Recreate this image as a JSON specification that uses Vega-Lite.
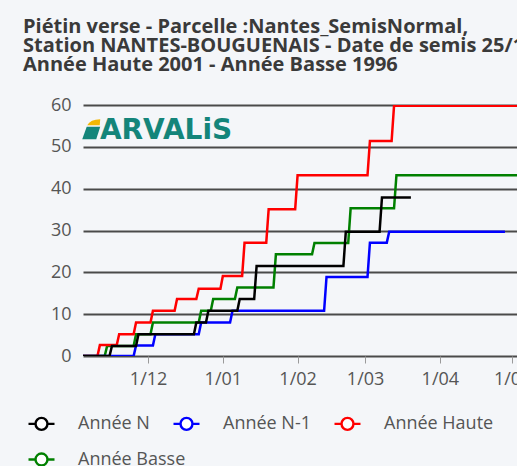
{
  "$schema": "https://vega.github.io/schema/vega-lite/v6.json",
  "width": 434,
  "height": 251,
  "autosize": {"type": "none"},
  "padding": {"left": 83, "top": 105, "right": 0, "bottom": 110},
  "background": "#f4f6f9",
  "title": {
    "text": ["Piétin verse - Parcelle :Nantes_SemisNormal,", "Station NANTES-BOUGUENAIS - Date de semis 25/1", "Année Haute 2001 - Année Basse 1996"],
    "anchor": "start",
    "frame": "group",
    "dx": -60,
    "fontSize": 20,
    "font": "Open Sans",
    "fontWeight": 700,
    "color": "#3a3a3a",
    "lineHeight": 19,
    "offset": 21
  },
  "config": {
    "view": {"stroke": null},
    "font": "Open Sans",
    "legend": {
      "title": null,
      "orient": "none",
      "direction": "horizontal",
      "gridAlign": "each",
      "columnPadding": 18,
      "symbolType": "M-1,0H-0.46M0.46,0H1M0.46,0A0.46,0.46,0,1,1,-0.46,0A0.46,0.46,0,1,1,0.46,0Z",
      "symbolSize": 676,
      "symbolStrokeWidth": 2.4,
      "symbolFillColor": "#ffffff",
      "labelOffset": 22,
      "labelFontSize": 18,
      "labelColor": "#555555",
      "labelFont": "Open Sans"
    }
  },
  "data": {
    "values": [
      {"serie": "Année Basse", "date": "2024-11-04", "value": 0},
      {"serie": "Année Basse", "date": "2024-11-13", "value": 0},
      {"serie": "Année Basse", "date": "2024-11-14", "value": 2.4},
      {"serie": "Année Basse", "date": "2024-11-25", "value": 2.4},
      {"serie": "Année Basse", "date": "2024-11-26", "value": 5.2},
      {"serie": "Année Basse", "date": "2024-12-02", "value": 5.2},
      {"serie": "Année Basse", "date": "2024-12-03", "value": 8.0},
      {"serie": "Année Basse", "date": "2024-12-22", "value": 8.0},
      {"serie": "Année Basse", "date": "2024-12-23", "value": 10.8},
      {"serie": "Année Basse", "date": "2024-12-27", "value": 10.8},
      {"serie": "Année Basse", "date": "2024-12-28", "value": 13.6},
      {"serie": "Année Basse", "date": "2025-01-06", "value": 13.6},
      {"serie": "Année Basse", "date": "2025-01-07", "value": 16.4},
      {"serie": "Année Basse", "date": "2025-01-22", "value": 16.4},
      {"serie": "Année Basse", "date": "2025-01-23", "value": 24.3},
      {"serie": "Année Basse", "date": "2025-02-07", "value": 24.3},
      {"serie": "Année Basse", "date": "2025-02-08", "value": 27.0},
      {"serie": "Année Basse", "date": "2025-02-22", "value": 27.0},
      {"serie": "Année Basse", "date": "2025-02-23", "value": 35.3},
      {"serie": "Année Basse", "date": "2025-03-13", "value": 35.3},
      {"serie": "Année Basse", "date": "2025-03-14", "value": 43.2},
      {"serie": "Année Basse", "date": "2025-05-03", "value": 43.2},

      {"serie": "Année Haute", "date": "2024-11-04", "value": 0},
      {"serie": "Année Haute", "date": "2024-11-10", "value": 0},
      {"serie": "Année Haute", "date": "2024-11-11", "value": 2.6},
      {"serie": "Année Haute", "date": "2024-11-18", "value": 2.6},
      {"serie": "Année Haute", "date": "2024-11-19", "value": 5.2},
      {"serie": "Année Haute", "date": "2024-11-25", "value": 5.2},
      {"serie": "Année Haute", "date": "2024-11-26", "value": 8.0},
      {"serie": "Année Haute", "date": "2024-12-02", "value": 8.0},
      {"serie": "Année Haute", "date": "2024-12-03", "value": 10.8},
      {"serie": "Année Haute", "date": "2024-12-12", "value": 10.8},
      {"serie": "Année Haute", "date": "2024-12-13", "value": 13.6},
      {"serie": "Année Haute", "date": "2024-12-21", "value": 13.6},
      {"serie": "Année Haute", "date": "2024-12-22", "value": 16.1},
      {"serie": "Année Haute", "date": "2024-12-31", "value": 16.1},
      {"serie": "Année Haute", "date": "2025-01-01", "value": 19.1},
      {"serie": "Année Haute", "date": "2025-01-09", "value": 19.1},
      {"serie": "Année Haute", "date": "2025-01-10", "value": 27.1},
      {"serie": "Année Haute", "date": "2025-01-19", "value": 27.1},
      {"serie": "Année Haute", "date": "2025-01-20", "value": 35.1},
      {"serie": "Année Haute", "date": "2025-01-31", "value": 35.1},
      {"serie": "Année Haute", "date": "2025-02-01", "value": 43.2},
      {"serie": "Année Haute", "date": "2025-03-02", "value": 43.2},
      {"serie": "Année Haute", "date": "2025-03-03", "value": 51.4},
      {"serie": "Année Haute", "date": "2025-03-12", "value": 51.4},
      {"serie": "Année Haute", "date": "2025-03-13", "value": 59.8},
      {"serie": "Année Haute", "date": "2025-05-03", "value": 59.8},

      {"serie": "Année N-1", "date": "2024-11-04", "value": 0},
      {"serie": "Année N-1", "date": "2024-11-25", "value": 0},
      {"serie": "Année N-1", "date": "2024-11-26", "value": 2.5},
      {"serie": "Année N-1", "date": "2024-12-03", "value": 2.5},
      {"serie": "Année N-1", "date": "2024-12-04", "value": 5.2},
      {"serie": "Année N-1", "date": "2024-12-22", "value": 5.2},
      {"serie": "Année N-1", "date": "2024-12-23", "value": 8.0},
      {"serie": "Année N-1", "date": "2025-01-04", "value": 8.0},
      {"serie": "Année N-1", "date": "2025-01-05", "value": 10.8},
      {"serie": "Année N-1", "date": "2025-02-12", "value": 10.8},
      {"serie": "Année N-1", "date": "2025-02-13", "value": 18.9},
      {"serie": "Année N-1", "date": "2025-03-02", "value": 18.9},
      {"serie": "Année N-1", "date": "2025-03-03", "value": 27.1},
      {"serie": "Année N-1", "date": "2025-03-10", "value": 27.1},
      {"serie": "Année N-1", "date": "2025-03-11", "value": 29.7},
      {"serie": "Année N-1", "date": "2025-04-28", "value": 29.7},

      {"serie": "Année N", "date": "2024-11-04", "value": 0},
      {"serie": "Année N", "date": "2024-11-15", "value": 0},
      {"serie": "Année N", "date": "2024-11-16", "value": 2.4},
      {"serie": "Année N", "date": "2024-11-26", "value": 2.4},
      {"serie": "Année N", "date": "2024-11-27", "value": 5.2},
      {"serie": "Année N", "date": "2024-12-20", "value": 5.2},
      {"serie": "Année N", "date": "2024-12-21", "value": 8.0},
      {"serie": "Année N", "date": "2024-12-25", "value": 8.0},
      {"serie": "Année N", "date": "2024-12-26", "value": 10.8},
      {"serie": "Année N", "date": "2025-01-07", "value": 10.8},
      {"serie": "Année N", "date": "2025-01-08", "value": 13.6},
      {"serie": "Année N", "date": "2025-01-14", "value": 13.6},
      {"serie": "Année N", "date": "2025-01-15", "value": 21.5},
      {"serie": "Année N", "date": "2025-02-20", "value": 21.5},
      {"serie": "Année N", "date": "2025-02-21", "value": 29.7},
      {"serie": "Année N", "date": "2025-03-07", "value": 29.7},
      {"serie": "Année N", "date": "2025-03-08", "value": 37.9},
      {"serie": "Année N", "date": "2025-03-20", "value": 37.9}
    ]
  },
  "encoding": {
    "x": {
      "field": "date",
      "type": "temporal",
      "title": null,
      "scale": {
        "type": "utc",
        "domain": [
          {"year": 2024, "month": 11, "date": 4, "utc": true},
          {"year": 2025, "month": 5, "date": 3, "utc": true}
        ]
      },
      "axis": {
        "format": "%-d/%m",
        "tickCount": {"interval": "month", "step": 1},
        "grid": false,
        "domain": false,
        "ticks": true,
        "tickSize": 7,
        "tickColor": "#9a9a9a",
        "tickWidth": 1,
        "labelFontSize": 18,
        "labelColor": "#555555",
        "labelPadding": 7,
        "labelFont": "Open Sans"
      }
    },
    "y": {
      "field": "value",
      "type": "quantitative",
      "title": null,
      "scale": {"domain": [0, 60], "nice": false},
      "axis": {
        "values": [0, 10, 20, 30, 40, 50, 60],
        "grid": true,
        "gridColor": "#4a4a4a",
        "gridWidth": 2,
        "domain": false,
        "ticks": false,
        "labelPadding": 12,
        "labelFontSize": 18,
        "labelColor": "#555555",
        "labelFont": "Open Sans"
      }
    }
  },
  "layer": [
    {
      "transform": [{"filter": "datum.serie === 'Année Basse'"}],
      "mark": {"type": "line", "strokeWidth": 2.5, "clip": true},
      "encoding": {
        "color": {
          "field": "serie",
          "type": "nominal",
          "scale": {"domain": ["Année Basse"], "range": ["#008000"]},
          "legend": {"legendX": -56, "legendY": 340}
        }
      }
    },
    {
      "transform": [{"filter": "datum.serie !== 'Année Basse'"}],
      "mark": {"type": "line", "strokeWidth": 2.5, "clip": true},
      "encoding": {
        "color": {
          "field": "serie",
          "type": "nominal",
          "scale": {
            "domain": ["Année N", "Année N-1", "Année Haute"],
            "range": ["#000000", "#0000ff", "#ff0000"]
          },
          "legend": {"legendX": -56, "legendY": 304}
        }
      }
    },
    {
      "data": {"values": [{"logo": "ARVALiS", "date": "2024-11-11", "value": 53.8}]},
      "mark": {"type": "text", "align": "left", "baseline": "middle", "fontSize": 28, "fontWeight": "bold", "font": "DejaVu Sans", "color": "#14857a"},
      "encoding": {
        "text": {"field": "logo"}
      }
    },
    {
      "data": {"values": [{"date": "2024-11-07", "value": 54.2}]},
      "mark": {"type": "point", "filled": true, "size": 400, "opacity": 1, "color": "#14857a", "shape": "M-0.8,1L-0.35,-0.25L1,-0.25L0.6,1Z"}
    },
    {
      "data": {"values": [{"date": "2024-11-07", "value": 54.2}]},
      "mark": {"type": "point", "filled": true, "size": 400, "opacity": 1, "color": "#f2b705", "shape": "M-0.3,-0.4Q0,-1 1,-1L0.95,-0.4Z"}
    }
  ],
  "resolve": {"scale": {"color": "independent"}, "legend": {"color": "independent"}}
}
